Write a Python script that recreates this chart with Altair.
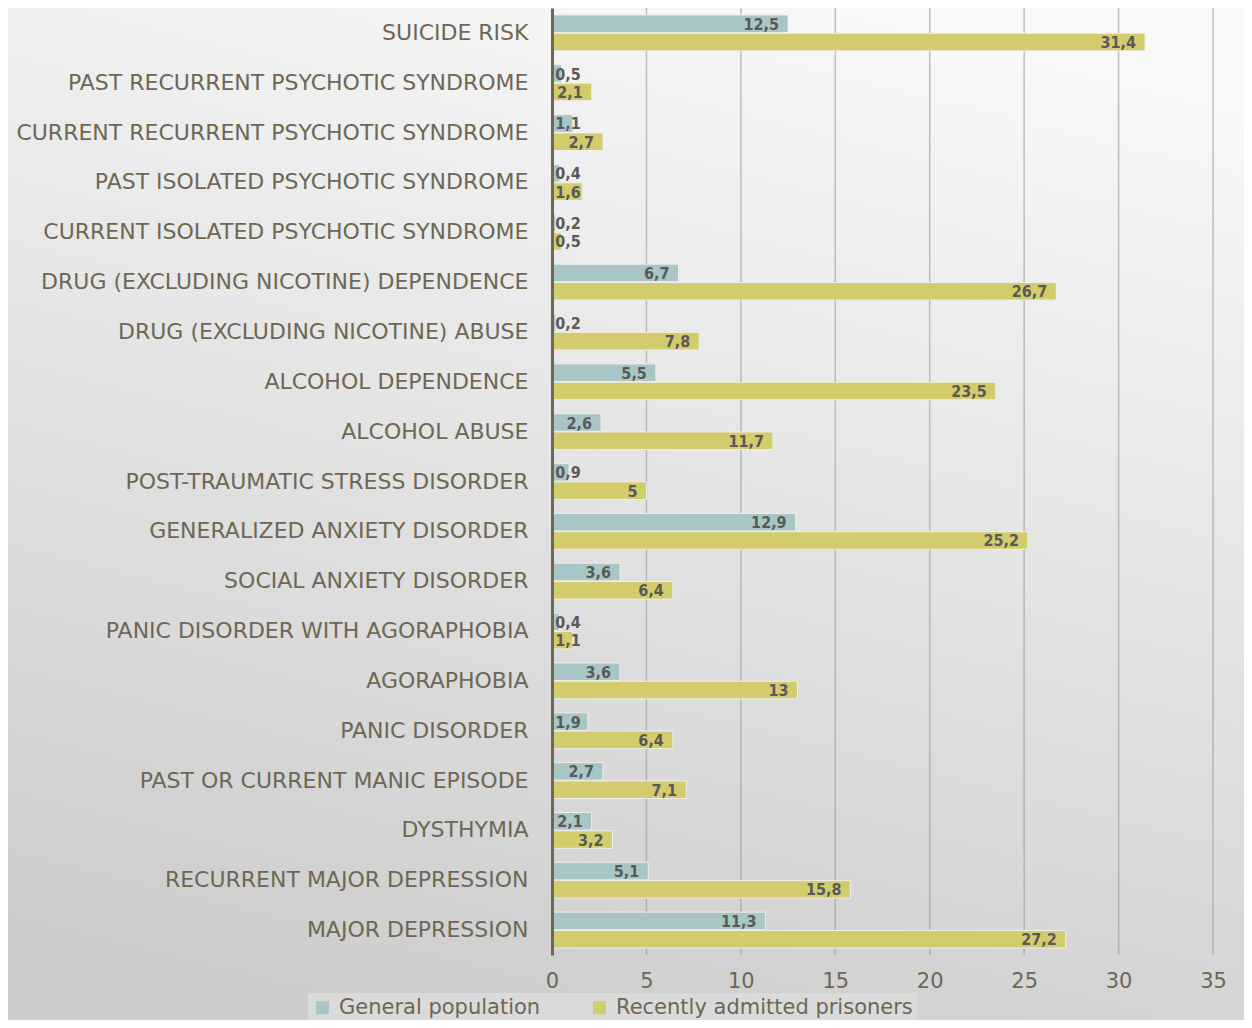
import altair as alt
import pandas as pd

categories = [
    "SUICIDE RISK",
    "PAST RECURRENT PSYCHOTIC SYNDROME",
    "CURRENT RECURRENT PSYCHOTIC SYNDROME",
    "PAST ISOLATED PSYCHOTIC SYNDROME",
    "CURRENT ISOLATED PSYCHOTIC SYNDROME",
    "DRUG (EXCLUDING NICOTINE) DEPENDENCE",
    "DRUG (EXCLUDING NICOTINE) ABUSE",
    "ALCOHOL DEPENDENCE",
    "ALCOHOL ABUSE",
    "POST-TRAUMATIC STRESS DISORDER",
    "GENERALIZED ANXIETY DISORDER",
    "SOCIAL ANXIETY DISORDER",
    "PANIC DISORDER WITH AGORAPHOBIA",
    "AGORAPHOBIA",
    "PANIC DISORDER",
    "PAST OR CURRENT MANIC EPISODE",
    "DYSTHYMIA",
    "RECURRENT MAJOR DEPRESSION",
    "MAJOR DEPRESSION",
]
general = [12.5, 0.5, 1.1, 0.4, 0.2, 6.7, 0.2, 5.5, 2.6, 0.9, 12.9, 3.6, 0.4, 3.6, 1.9, 2.7, 2.1, 5.1, 11.3]
prisoners = [31.4, 2.1, 2.7, 1.6, 0.5, 26.7, 7.8, 23.5, 11.7, 5, 25.2, 6.4, 1.1, 13, 6.4, 7.1, 3.2, 15.8, 27.2]
series_names = ["General population", "Recently admitted prisoners"]
series_colors = ["#a9c6c6", "#d3cc6c"]
grid_ticks = [5, 10, 15, 20, 25, 30, 35]
axis_ticks = [0, 5, 10, 15, 20, 25, 30, 35]

rows = []
for c, g, p in zip(categories, general, prisoners):
    for s, v in ((series_names[0], g), (series_names[1], p)):
        rows.append({
            "cat": c,
            "series": s,
            "value": v,
            "label": f"{v:g}".replace(".", ","),
            "lpos": max(v, 2.0),
        })
df = pd.DataFrame(rows)

W, H = 661, 947
PL, PT, PR, PB = 544, 0, 31, 65
OLIVE = "#6d6753"
FONT = "DejaVu Sans"
LABEL_FONT = "DejaVu Sans Condensed, Roboto, sans-serif"

bg_gradient = {
    "gradient": "linear",
    "x1": 0.65, "y1": 0, "x2": 0.35, "y2": 1,
    "stops": [
        {"offset": 0, "color": "#f8f8f8"},
        {"offset": 1, "color": "#cdcdcd"},
    ],
}

bg = alt.Chart(pd.DataFrame({"a": [0]})).mark_rect(fill=bg_gradient).encode(
    x=alt.value(-PL), x2=alt.value(W + PR), y=alt.value(-PT - 8), y2=alt.value(H + PB)
)

xscale = alt.Scale(domain=[0, 35], nice=False)
xaxis = alt.Axis(
    title=None,
    values=axis_ticks,
    labelFont=FONT,
    labelFontSize=21,
    labelColor=OLIVE,
    labelPadding=15,
    labelFlush=False,
    ticks=False,
    domain=False,
    grid=False,
    zindex=1,
)

grid = alt.Chart(pd.DataFrame({"t": grid_ticks})).mark_rule(
    color="#9a9a9a", strokeWidth=1.5, opacity=0.6
).encode(
    x=alt.X("t:Q", scale=xscale, axis=xaxis),
    y=alt.value(0),
    y2=alt.value(H),
)

yenc = alt.Y(
    "cat:N",
    sort=categories,
    scale=alt.Scale(paddingInner=0.28, paddingOuter=0.14),
    axis=alt.Axis(
        title=None,
        labelFont=FONT,
        labelFontSize=22,
        labelColor=OLIVE,
        labelPadding=24,
        labelLimit=600,
        ticks=False,
        domain=True,
        domainColor=OLIVE,
        domainWidth=3,
        grid=False,
        zindex=1,
    ),
)
yoff = alt.YOffset("series:N", sort=series_names, scale=alt.Scale(paddingInner=0.04))

bars = alt.Chart(df).mark_bar(stroke="#eeeeee", strokeWidth=1).encode(
    y=yenc,
    yOffset=yoff,
    x=alt.X("value:Q", scale=xscale, axis=xaxis),
    color=alt.Color(
        "series:N",
        sort=series_names,
        scale=alt.Scale(domain=series_names, range=series_colors),
        legend=alt.Legend(
            title=None,
            orient="none",
            legendX=-244,
            legendY=985,
            direction="horizontal",
            fillColor="#dadada",
            padding=4,
            symbolType="square",
            symbolSize=170,
            symbolStrokeWidth=0,
            labelFont=FONT,
            labelFontSize=21,
            labelColor=OLIVE,
            labelOffset=6,
            columnPadding=48,
            labelLimit=500,
        ),
    ),
)

text = alt.Chart(df).mark_text(
    align="right",
    baseline="middle",
    dx=-9,
    dy=1,
    font=LABEL_FONT,
    fontWeight="bold",
    fontSize=16,
    color="#595959",
).encode(
    y=alt.Y("cat:N", sort=categories),
    yOffset=alt.YOffset("series:N", sort=series_names),
    x=alt.X("lpos:Q", scale=xscale),
    text="label:N",
)

chart = alt.layer(bg, grid, bars, text).properties(
    width=W,
    height=H,
    padding={"left": PL, "top": PT, "right": PR, "bottom": PB},
    autosize=alt.AutoSizeParams(type="none"),
    background="#dedede",
).configure_view(stroke=None)

chart.save("out.html", embed_options={"renderer": "svg", "actions": False})
